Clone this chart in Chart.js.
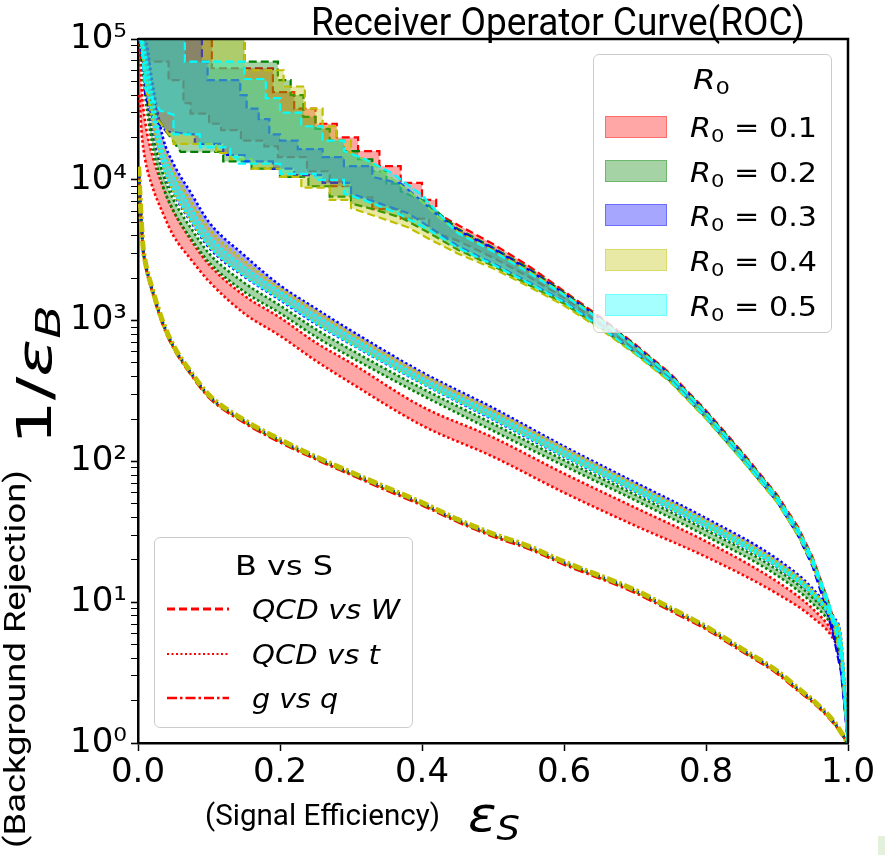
<!DOCTYPE html>
<html>
<head>
<meta charset="utf-8">
<script src="https://cdn.jsdelivr.net/npm/chart.js@4.4.1/dist/chart.umd.min.js"></script>
<style>
  html, body { margin: 0; padding: 0; background: #fff; }
  #wrap { position: relative; width: 885px; height: 855px; overflow: hidden; }
  #roc { position: absolute; left: 0; top: 0; }
  .txt { position: absolute; white-space: nowrap; color: #000; line-height: 1; transform-origin: left top; }
  .dv { font-family: 'DejaVu Sans', sans-serif; }
  .rb { font-family: Roboto, 'DejaVu Sans', sans-serif; }
  .sub { font-size: 70%; position: relative; top: 0.28em; }
  .legend { position: absolute; border: 1px solid #cccccc; border-radius: 6px; background: rgba(255,255,255,0.8); box-sizing: border-box; }
  .patch { position: absolute; width: 62px; height: 22px; box-sizing: border-box; }
</style>
</head>
<body>
<div id="wrap">
  <canvas id="roc" width="885" height="855"></canvas>
</div>
<script>
// ---- axis ticks ----
const xTickValues = [0, 0.2, 0.4, 0.6, 0.8, 1.0];
const xTickLabels = ['0.0', '0.2', '0.4', '0.6', '0.8', '1.0'];
const yMajorTicks = [1, 10, 100, 1000, 10000, 100000];
const yTickLabels = ['10\u2070', '10\u00b9', '10\u00b2', '10\u00b3', '10\u2074', '10\u2075'];

const r0Labels = ['0.1', '0.2', '0.3', '0.4', '0.5'];
const bsLabels = ['QCD vs W', 'QCD vs t', 'g vs q'];

// ---- QCD vs W (dashed, staircase) : [signal eff, 1/eps_B] ----
const wHiR01 = [[0.003,1e5],[0.104,1e5],[0.104,62000],[0.19,62000],[0.19,42000],[0.22,42000],[0.22,32000],[0.25,32000],[0.25,25000],[0.28,25000],[0.28,20000],[0.31,20000],[0.31,16000],[0.34,16000],[0.34,12500],[0.37,12500],[0.37,9500],[0.4,9500],[0.4,7200],[0.42,7200],[0.42,5800],[0.45,4800],[0.5,3500],[0.55,2450],[0.6,1620],[0.65,1070],[0.7,680],[0.75,420],[0.8,230],[0.85,118],[0.9,58],[0.93,34],[0.95,21],[0.97,11],[0.98,7.5],[0.99,4.6],[1,1]];
const wLoR01 = [[0.004,1e5],[0.004,69000],[0.043,69000],[0.043,51000],[0.064,51000],[0.064,35000],[0.074,35000],[0.074,29500],[0.1,29500],[0.1,25000],[0.117,25000],[0.117,22500],[0.145,22500],[0.145,19000],[0.178,19000],[0.178,17300],[0.197,17300],[0.197,14500],[0.238,14500],[0.238,11500],[0.27,11500],[0.27,9000],[0.3,9000],[0.3,7500],[0.33,7500],[0.33,6200],[0.37,6200],[0.37,5300],[0.41,5300],[0.41,4400],[0.45,3700],[0.5,2800],[0.55,2050],[0.6,1450],[0.65,960],[0.7,620],[0.75,390],[0.8,213],[0.85,110],[0.9,54],[0.93,31.5],[0.95,19.5],[0.97,10.3],[0.98,7],[0.99,4.3],[1,1]];
const wHiR02 = [[0.002,1e5],[0.15,1e5],[0.15,69000],[0.197,69000],[0.197,51000],[0.215,51000],[0.215,40000],[0.233,40000],[0.233,28000],[0.25,28000],[0.25,23000],[0.27,23000],[0.27,19000],[0.29,19000],[0.29,16000],[0.31,16000],[0.31,14000],[0.33,14000],[0.33,11500],[0.35,11500],[0.35,9400],[0.37,9400],[0.37,8300],[0.4,7200],[0.42,6000],[0.45,4500],[0.5,3300],[0.55,2350],[0.6,1580],[0.65,1050],[0.7,670],[0.75,412],[0.8,226],[0.85,116],[0.9,57],[0.93,33],[0.95,20.5],[0.97,10.8],[0.98,7.3],[0.99,4.5],[1,1]];
const wLoR02 = [[0.006,1e5],[0.01,50000],[0.02,32000],[0.04,22000],[0.06,15800],[0.12,15800],[0.12,13500],[0.16,13500],[0.16,12000],[0.2,12000],[0.2,10500],[0.24,10500],[0.24,9000],[0.27,9000],[0.27,7600],[0.3,7600],[0.3,6800],[0.33,6200],[0.37,5400],[0.41,4200],[0.45,3200],[0.5,2450],[0.55,1800],[0.6,1320],[0.65,900],[0.7,590],[0.75,370],[0.8,203],[0.85,104],[0.9,52],[0.93,30],[0.95,18.8],[0.97,9.9],[0.98,6.8],[0.99,4.1],[1,1]];
const wHiR03 = [[0.003,1e5],[0.09,1e5],[0.09,69000],[0.098,69000],[0.098,51000],[0.144,51000],[0.144,40000],[0.153,40000],[0.153,32000],[0.17,32000],[0.17,27000],[0.185,27000],[0.185,21000],[0.2,21000],[0.2,19000],[0.225,19000],[0.225,16500],[0.26,16500],[0.26,14500],[0.29,14500],[0.29,12500],[0.33,12500],[0.33,10500],[0.37,9400],[0.4,7000],[0.42,5700],[0.45,4400],[0.5,3250],[0.55,2300],[0.6,1560],[0.65,1040],[0.7,665],[0.75,410],[0.8,224],[0.85,114],[0.9,56],[0.93,32],[0.95,19.5],[0.97,9.5],[0.98,6],[0.99,3.4],[1,1]];
const wLoR03 = [[0.005,1e5],[0.01,40000],[0.02,28000],[0.04,22000],[0.08,21000],[0.08,18000],[0.12,18000],[0.12,15000],[0.15,15000],[0.15,13500],[0.19,13500],[0.19,12000],[0.22,12000],[0.22,10800],[0.26,10800],[0.26,9500],[0.3,9500],[0.3,8000],[0.34,6800],[0.38,5800],[0.42,4300],[0.45,3400],[0.5,2550],[0.55,1880],[0.6,1370],[0.65,920],[0.7,600],[0.75,378],[0.8,207],[0.85,106],[0.9,52],[0.93,29.5],[0.95,18],[0.97,8.8],[0.98,5.6],[0.99,3.2],[1,1]];
const wHiR04 = [[0.002,1e5],[0.15,1e5],[0.15,60000],[0.205,60000],[0.205,46000],[0.235,46000],[0.235,32000],[0.26,32000],[0.26,24000],[0.28,24000],[0.28,19000],[0.3,19000],[0.3,15500],[0.33,13000],[0.36,10000],[0.4,7000],[0.42,5600],[0.45,4300],[0.5,3150],[0.55,2250],[0.6,1540],[0.65,1030],[0.7,660],[0.75,408],[0.8,222],[0.85,114],[0.9,56.5],[0.93,33],[0.95,20.5],[0.97,10.8],[0.98,7.4],[0.99,4.5],[1,1]];
const wLoR04 = [[0.006,1e5],[0.01,45000],[0.02,30000],[0.035,24000],[0.05,19000],[0.05,18000],[0.11,18000],[0.11,15500],[0.13,15500],[0.13,14000],[0.16,14000],[0.16,12000],[0.2,12000],[0.2,10500],[0.23,10500],[0.23,8800],[0.27,8800],[0.27,7200],[0.3,7200],[0.3,6300],[0.34,5400],[0.38,4600],[0.41,3800],[0.45,3000],[0.5,2350],[0.55,1750],[0.6,1280],[0.65,880],[0.7,580],[0.75,365],[0.8,200],[0.85,103],[0.9,51],[0.93,29.5],[0.95,18.5],[0.97,9.8],[0.98,6.7],[0.99,4],[1,1]];
const wHiR05 = [[0.003,1e5],[0.066,1e5],[0.066,69000],[0.15,69000],[0.15,52000],[0.18,52000],[0.18,38000],[0.2,38000],[0.2,30000],[0.23,30000],[0.23,24000],[0.26,24000],[0.26,19000],[0.29,19000],[0.29,16000],[0.32,14000],[0.36,11000],[0.4,7800],[0.42,6000],[0.45,4200],[0.5,3100],[0.55,2200],[0.6,1520],[0.65,1020],[0.7,655],[0.75,405],[0.8,221],[0.85,113],[0.9,56],[0.93,33],[0.95,20.5],[0.97,11],[0.98,7.6],[0.99,4.8],[1,1]];
const wLoR05 = [[0.004,1e5],[0.01,45000],[0.031,31000],[0.05,29000],[0.05,21000],[0.087,21000],[0.087,17000],[0.13,17000],[0.13,14500],[0.14,14500],[0.14,13000],[0.2,13000],[0.2,11000],[0.25,11000],[0.25,10000],[0.29,10000],[0.29,8000],[0.317,7200],[0.365,5800],[0.41,4400],[0.45,3300],[0.5,2500],[0.55,1850],[0.6,1350],[0.65,910],[0.7,595],[0.75,375],[0.8,205],[0.85,105],[0.9,52.5],[0.93,30.5],[0.95,19],[0.97,10.2],[0.98,7.1],[0.99,4.4],[1,1]];

// ---- QCD vs t (dotted) ----
const tEps  = [0.002, 0.005, 0.01, 0.02, 0.035, 0.05, 0.075, 0.1, 0.15, 0.2, 0.25, 0.3, 0.4, 0.5, 0.6, 0.7, 0.8, 0.9, 0.95, 0.98, 0.99, 1.0];
const tHiR01 = [100000, 45000, 26000, 15000, 9000, 6000, 3700, 2500, 1500, 1050, 700, 500, 245, 148, 82, 47, 27, 14, 9, 6, 4.5, 1];
const tLoR01 = [40000, 22000, 14000, 9000, 5800, 4000, 2700, 1900, 1120, 780, 520, 360, 180, 108, 60, 35, 21, 11.5, 7.8, 5.4, 4, 1];
const tHiR02 = [100000, 80000, 48000, 22000, 11000, 7200, 4500, 3000, 1850, 1280, 870, 620, 330, 185, 102, 58, 32.5, 17, 10.8, 7, 5, 1];
const tLoR02 = [100000, 70000, 40000, 18000, 9000, 6000, 3800, 2600, 1600, 1130, 770, 550, 295, 165, 93, 53, 29.5, 15.5, 9.8, 6.5, 4.8, 1];
const tHiR03 = [100000, 100000, 100000, 50000, 20000, 13000, 8000, 5000, 2900, 1780, 1220, 850, 430, 240, 128, 71, 39.5, 20.3, 12.5, 7.8, 5.6, 1];
const tLoR03 = [100000, 80000, 50000, 24000, 12000, 8000, 5000, 3300, 2050, 1400, 950, 680, 358, 198, 108, 61, 34, 17.8, 11.2, 7.1, 5.1, 1];
const tHiR04 = [100000, 100000, 70000, 36000, 17000, 11500, 7000, 4500, 2650, 1700, 1170, 810, 415, 230, 124, 68.5, 38, 19.4, 12.1, 7.6, 5.5, 1];
const tLoR04 = [100000, 90000, 55000, 26000, 12500, 8200, 5100, 3400, 2100, 1450, 980, 695, 365, 203, 110, 62, 34.5, 18, 11.3, 7.2, 5.2, 1];
const tHiR05 = [100000, 100000, 80000, 40000, 16000, 10500, 6200, 4000, 2400, 1600, 1090, 765, 390, 218, 118, 66, 36.8, 18.8, 11.8, 7.5, 5.4, 1];
const tLoR05 = [100000, 100000, 60000, 30000, 13000, 8500, 5200, 3400, 2080, 1420, 965, 685, 360, 200, 109, 61.5, 34.2, 17.9, 11.3, 7.2, 5.2, 1];

// ---- g vs q (dash-dot) ----
const gqEps  = [0.001, 0.003, 0.007, 0.01, 0.02, 0.035, 0.05, 0.075, 0.1, 0.15, 0.2, 0.25, 0.3, 0.35, 0.4, 0.45, 0.5, 0.55, 0.6, 0.7, 0.75, 0.8, 0.85, 0.9, 0.93, 0.95, 0.98, 1.0];
const gqR01 = [11500, 7000, 3250, 2550, 1620, 940, 640, 412, 285, 188, 137, 104, 80.5, 62.5, 49, 37.3, 29.4, 24, 18.6, 11.7, 8.7, 6.45, 4.5, 3.13, 2.35, 1.96, 1.38, 1];
const gqR02 = [12000, 7200, 3300, 2600, 1650, 960, 650, 420, 290, 192, 140, 106, 82, 64, 50, 38, 30, 24.5, 19, 12, 8.9, 6.6, 4.6, 3.2, 2.4, 2.0, 1.4, 1];
const gqR03 = [12200, 7300, 3350, 2630, 1670, 970, 657, 424, 293, 194, 141.5, 107, 83, 64.6, 50.5, 38.4, 30.3, 24.7, 19.2, 12.1, 9, 6.65, 4.64, 3.22, 2.42, 2.01, 1.41, 1];
const gqR04 = [12400, 7400, 3400, 2660, 1690, 980, 663, 428, 296, 196, 143, 108, 83.8, 65.3, 51, 38.8, 30.6, 25, 19.4, 12.2, 9.1, 6.7, 4.68, 3.25, 2.44, 2.02, 1.42, 1];
const gqR05 = [12100, 7250, 3320, 2610, 1660, 965, 654, 422, 291, 193, 140.7, 106.5, 82.5, 64.3, 50.2, 38.2, 30.1, 24.6, 19.1, 12.05, 8.95, 6.62, 4.62, 3.21, 2.41, 2.0, 1.4, 1];

const wHiAll = [wHiR01, wHiR02, wHiR03, wHiR04, wHiR05];
const wLoAll = [wLoR01, wLoR02, wLoR03, wLoR04, wLoR05];
const tHiAll = [tHiR01, tHiR02, tHiR03, tHiR04, tHiR05];
const tLoAll = [tLoR01, tLoR02, tLoR03, tLoR04, tLoR05];
const gqAll  = [gqR01, gqR02, gqR03, gqR04, gqR05];

// matplotlib-ish colours: r, g, b, y, cyan
const lineColors = ['#ff0000', '#008000', '#0000ff', '#bfbf00', '#00ffff'];
const fillColors = ['rgba(255,0,0,0.35)', 'rgba(0,128,0,0.35)', 'rgba(0,0,255,0.35)', 'rgba(191,191,0,0.35)', 'rgba(0,255,255,0.35)'];

const pairs = arr => arr.map(p => ({x: p[0], y: p[1]}));
const onGrid = (xs, ys) => xs.map((x, i) => ({x: x, y: ys[i]}));

const datasets = [];
let drawOrder = 0;
function addLine(data, color, dash, width, extra) {
  // later datasets are drawn on top, like matplotlib
  datasets.push(Object.assign({
    data: data,
    borderColor: color,
    borderDash: dash,
    borderWidth: width,
    borderCapStyle: 'butt',
    pointRadius: 0,
    pointHoverRadius: 0,
    fill: false,
    order: drawOrder--
  }, extra || {}));
}

// g vs q first (underneath); yellow one on top of the others
[4, 0, 1, 2, 3].forEach(function (i) {
  addLine(onGrid(gqEps, gqAll[i]), lineColors[i], [10, 3, 2.5, 3], i === 3 ? 5 : 3, {cubicInterpolationMode: 'monotone'});
});
for (let i = 0; i < 5; i++) {
  // QCD vs W band
  addLine(pairs(wLoAll[i]), lineColors[i], [8, 4], 2.2, {tension: 0});
  addLine(pairs(wHiAll[i]), lineColors[i], [8, 4], 2.2, {tension: 0, fill: '-1', backgroundColor: fillColors[i]});
  // QCD vs t band
  addLine(onGrid(tEps, tLoAll[i]), lineColors[i], [2.5, 2.5], 2.6, {cubicInterpolationMode: 'monotone'});
  addLine(onGrid(tEps, tHiAll[i]), lineColors[i], [2.5, 2.5], 2.6, {cubicInterpolationMode: 'monotone', fill: '-1', backgroundColor: fillColors[i]});
}

const yAllTicks = [];
yMajorTicks.forEach(function (m, k) {
  yAllTicks.push(m);
  if (k < yMajorTicks.length - 1) for (let s = 2; s <= 9; s++) yAllTicks.push(m * s);
});

const framePlugin = {
  id: 'frame',
  afterDraw(chart) {
    const a = chart.chartArea, ctx = chart.ctx;
    ctx.save();
    ctx.strokeStyle = '#000';
    ctx.lineWidth = 2.5;
    ctx.beginPath();
    ctx.moveTo(a.left, a.top);
    ctx.lineTo(a.right, a.top);
    ctx.lineTo(a.right, a.bottom);
    ctx.stroke();
    ctx.restore();
  }
};

new Chart(document.getElementById('roc'), {
  type: 'line',
  data: {datasets: datasets},
  plugins: [framePlugin],
  options: {
    responsive: false,
    animation: false,
    devicePixelRatio: 1,
    layout: {padding: {top: 39, right: 37, left: 0, bottom: 0}},
    plugins: {legend: {display: false}, tooltip: {enabled: false}},
    scales: {
      x: {
        type: 'linear', min: 0, max: 1,
        afterBuildTicks: s => { s.ticks = xTickValues.map(v => ({value: v})); },
        afterFit: s => { s.height = 112; },
        ticks: {
          callback: (v, i) => xTickLabels[i],
          font: {family: "'DejaVu Sans'", size: 34},
          color: '#000', padding: 2, maxRotation: 0, autoSkip: false
        },
        grid: {drawOnChartArea: false, drawTicks: true, tickLength: 8, tickColor: '#000', tickWidth: 1.5},
        border: {display: true, color: '#000', width: 2.5}
      },
      y: {
        type: 'logarithmic', min: 1, max: 100000,
        afterBuildTicks: s => { s.ticks = yAllTicks.map(v => ({value: v, major: yMajorTicks.indexOf(v) >= 0})); },
        afterFit: s => { s.width = 138; },
        ticks: {
          autoSkip: false,
          callback: v => { const k = yMajorTicks.indexOf(v); return k >= 0 ? yTickLabels[k] : ''; },
          font: {family: "'DejaVu Sans'", size: 34},
          color: '#000', padding: 4
        },
        grid: {
          drawOnChartArea: false, drawTicks: true, tickLength: 7, tickColor: '#000',
          tickWidth: c => (c.tick && yMajorTicks.indexOf(c.tick.value) >= 0) ? 1.6 : 1
        },
        border: {display: true, color: '#000', width: 2.5}
      }
    }
  }
});

// ---- text layer (title, axis labels, legends) ----
const wrap = document.getElementById('wrap');
function addText(html, cls, left, top, size, fitW, rotate) {
  const el = document.createElement('div');
  el.className = 'txt ' + cls;
  el.style.left = left + 'px';
  el.style.top = top + 'px';
  el.style.fontSize = size + 'px';
  el.innerHTML = html;
  wrap.appendChild(el);
  const w = el.getBoundingClientRect().width;
  const k = fitW ? fitW / w : 1;
  el.style.transform = (rotate ? 'rotate(-90deg) ' : '') + 'scaleX(' + k + ')';
  return el;
}

addText('Receiver Operator Curve(ROC)', 'rb', 311, 3, 38, 494);
addText('(Background Rejection)', 'rb', 1, 848, 29, 378, true);
addText('1/<i>\u03b5<span class="sub">B</span></i>', 'dv', 10, 445, 48, 140, true);
addText('(Signal Efficiency)', 'rb', 205, 801, 29, 235);
addText('<i>\u03b5<span class="sub">S</span></i>', 'dv', 468, 790, 48, 52);

// legend: R0
const leg1 = document.createElement('div');
leg1.className = 'legend';
Object.assign(leg1.style, {left: '593px', top: '54px', width: '239px', height: '279px'});
wrap.appendChild(leg1);
addText('<i>R</i><span class="sub">0</span>', 'dv', 693, 67, 26, 37);
const rowY = [126.5, 171, 215, 260, 305];
r0Labels.forEach(function (lab, i) {
  const p = document.createElement('div');
  p.className = 'patch';
  Object.assign(p.style, {left: '605px', top: (rowY[i] - 11) + 'px', background: fillColors[i], border: '1.5px solid ' + fillColors[i]});
  wrap.appendChild(p);
  addText('<i>R</i><span class="sub">0</span> = ' + lab, 'dv', 690, rowY[i] - 11.5, 26, 127);
});

// legend: B vs S
const leg2 = document.createElement('div');
leg2.className = 'legend';
Object.assign(leg2.style, {left: '154px', top: '537px', width: '259px', height: '191px'});
wrap.appendChild(leg2);
addText('B vs S', 'dv', 235, 552, 27, 98);
const bsY = [609, 654, 698];
const bsDash = ['8,4', '2,2.5', '10,3,2.5,3'];
const bsWidth = [3, 2, 2.6];
const bsFit = [148, 128, 86];
bsLabels.forEach(function (lab, i) {
  const svg = document.createElementNS('http://www.w3.org/2000/svg', 'svg');
  svg.setAttribute('width', '62'); svg.setAttribute('height', '10');
  svg.style.position = 'absolute'; svg.style.left = '167px'; svg.style.top = (bsY[i] - 5) + 'px';
  const ln = document.createElementNS('http://www.w3.org/2000/svg', 'line');
  ln.setAttribute('x1', '0'); ln.setAttribute('y1', '5'); ln.setAttribute('x2', '62'); ln.setAttribute('y2', '5');
  ln.setAttribute('stroke', '#ff0000'); ln.setAttribute('stroke-width', bsWidth[i]); ln.setAttribute('stroke-dasharray', bsDash[i]);
  svg.appendChild(ln);
  wrap.appendChild(svg);
  addText('<i>' + lab + '</i>', 'dv', 252, bsY[i] - 13, 27, bsFit[i]);
});

// small light-green mark at the bottom-right corner of the picture
const mark = document.createElement('div');
Object.assign(mark.style, {position: 'absolute', left: '878px', top: '836px', width: '7px', height: '19px', background: '#e3f1dc'});
wrap.appendChild(mark);
</script>
</body>
</html>
